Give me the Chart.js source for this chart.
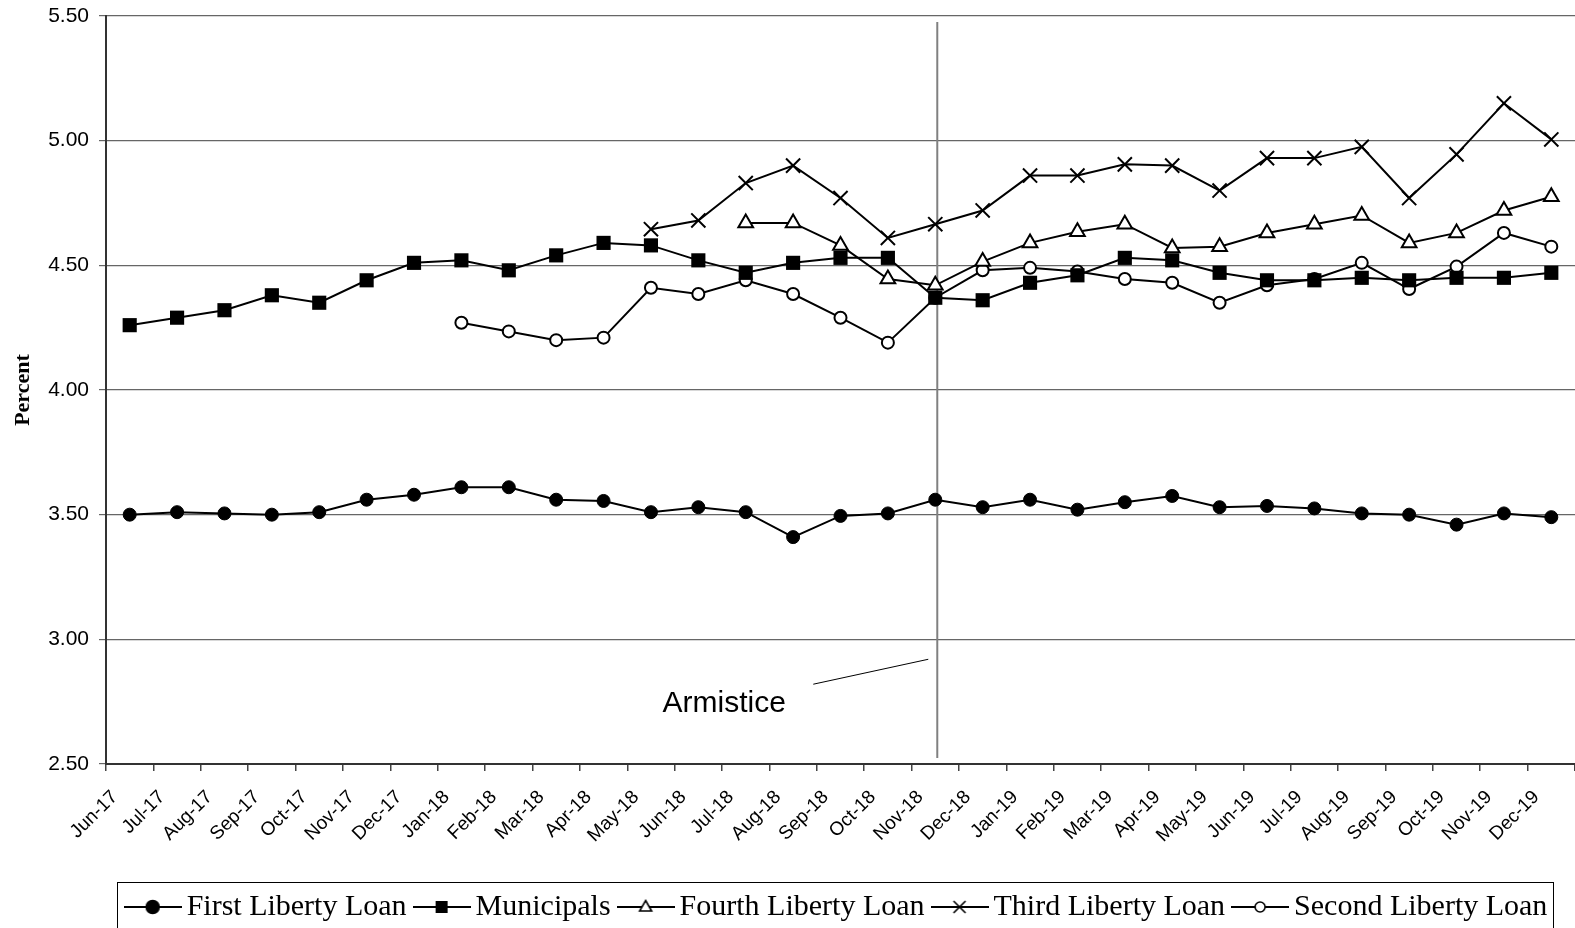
<!DOCTYPE html>
<html>
<head>
<meta charset="utf-8">
<script src="https://cdn.jsdelivr.net/npm/chart.js@4.4.0/dist/chart.umd.min.js"></script>
<style>
  html, body { margin: 0; padding: 0; background: #fff; }
</style>
</head>
<body>
<canvas id="graficaTasas" width="1575" height="928"></canvas>
<script>
const months = ['Jun-17', 'Jul-17', 'Aug-17', 'Sep-17', 'Oct-17', 'Nov-17', 'Dec-17',
    'Jan-18', 'Feb-18', 'Mar-18', 'Apr-18', 'May-18', 'Jun-18', 'Jul-18', 'Aug-18', 'Sep-18', 'Oct-18', 'Nov-18', 'Dec-18',
    'Jan-19', 'Feb-19', 'Mar-19', 'Apr-19', 'May-19', 'Jun-19', 'Jul-19', 'Aug-19', 'Sep-19', 'Oct-19', 'Nov-19', 'Dec-19'];

const seriesNames = ['First Liberty Loan', 'Municipals', 'Fourth Liberty Loan', 'Third Liberty Loan', 'Second Liberty Loan'];

const firstLiberty = [3.50, 3.51, 3.505, 3.50, 3.51, 3.56, 3.58, 3.61, 3.61, 3.56, 3.555, 3.51, 3.53, 3.51, 3.41, 3.495,
    3.505, 3.56, 3.53, 3.56, 3.52, 3.55, 3.575, 3.53, 3.535, 3.525, 3.505, 3.50, 3.46, 3.505, 3.49];

const municipals = [4.26, 4.29, 4.32, 4.38, 4.35, 4.44, 4.51, 4.52, 4.48, 4.54, 4.59, 4.58, 4.52, 4.47, 4.51, 4.53,
    4.53, 4.37, 4.36, 4.43, 4.46, 4.53, 4.52, 4.47, 4.44, 4.44, 4.45, 4.44, 4.45, 4.45, 4.47];

const fourthLiberty = [null, null, null, null, null, null, null, null, null, null, null, null, null,
    4.67, 4.67, 4.58, 4.445, 4.42, 4.515, 4.59, 4.635, 4.665, 4.57, 4.575, 4.63, 4.665, 4.70, 4.59, 4.63, 4.72, 4.775];

const thirdLiberty = [null, null, null, null, null, null, null, null, null, null, null,
    4.645, 4.68, 4.83, 4.90, 4.77, 4.61, 4.665, 4.72, 4.86, 4.86, 4.905, 4.90, 4.80, 4.93, 4.93, 4.975, 4.77, 4.945, 5.15, 5.005];

const secondLiberty = [null, null, null, null, null, null, null,
    4.27, 4.235, 4.20, 4.21, 4.41, 4.385, 4.44, 4.385, 4.29, 4.19, 4.37, 4.48, 4.49, 4.475, 4.445, 4.43, 4.35, 4.42, 4.445,
    4.51, 4.405, 4.495, 4.63, 4.575];

const yTicks = [2.50, 3.00, 3.50, 4.00, 4.50, 5.00, 5.50];

const armisticeMonth = 'Nov-18';
const armisticeText = 'Armistice';

// marker for the legend: short line with the symbol in the middle
function legendSymbol(style, filled) {
    const c = document.createElement('canvas');
    c.width = 58;
    c.height = 24;
    const g = c.getContext('2d');
    g.strokeStyle = '#000';
    g.lineWidth = 2;
    g.beginPath();
    g.moveTo(0, 12);
    g.lineTo(58, 12);
    g.stroke();
    g.fillStyle = filled ? '#000' : '#fff';
    g.lineWidth = 1.6;
    g.beginPath();
    if (style === 'circle') {
        g.arc(29, 12, filled ? 6.5 : 5, 0, Math.PI * 2);
        g.fill();
        g.stroke();
    } else if (style === 'rect') {
        g.rect(23, 6, 12, 12);
        g.fill();
    } else if (style === 'triangle') {
        g.moveTo(29, 5.5);
        g.lineTo(35, 16);
        g.lineTo(23, 16);
        g.closePath();
        g.fill();
        g.stroke();
    } else if (style === 'crossRot') {
        g.moveTo(23, 6); g.lineTo(35, 18);
        g.moveTo(35, 6); g.lineTo(23, 18);
        g.stroke();
    }
    return c;
}

const legendSymbols = [
    legendSymbol('circle', true),
    legendSymbol('rect', true),
    legendSymbol('triangle', false),
    legendSymbol('crossRot', false),
    legendSymbol('circle', false)
];

// armistice line, label and pointer
const armisticePlugin = {
    id: 'armistice',
    beforeDatasetsDraw(chart) {
        const { ctx, chartArea, scales } = chart;
        const xa = scales.x.getPixelForValue(months.indexOf(armisticeMonth)) + 2;
        ctx.save();
        ctx.strokeStyle = '#808080';
        ctx.lineWidth = 2;
        ctx.beginPath();
        ctx.moveTo(xa, chartArea.top + 6);
        ctx.lineTo(xa, chartArea.bottom - 6);
        ctx.stroke();
        ctx.restore();
    },
    afterDatasetsDraw(chart) {
        const { ctx, scales } = chart;
        const xa = scales.x.getPixelForValue(months.indexOf(armisticeMonth));
        ctx.save();
        ctx.strokeStyle = '#000';
        ctx.lineWidth = 1;
        ctx.beginPath();
        ctx.moveTo(xa - 122, scales.y.getPixelForValue(2.82));
        ctx.lineTo(xa - 7, scales.y.getPixelForValue(2.92));
        ctx.stroke();
        ctx.fillStyle = '#000';
        ctx.font = '30px "Liberation Sans", Arial, sans-serif';
        ctx.textAlign = 'center';
        ctx.textBaseline = 'alphabetic';
        ctx.fillText(armisticeText, xa - 211, scales.y.getPixelForValue(2.71));
        ctx.restore();
    }
};

// frame round the legend
const legendFrame = {
    id: 'legendFrame',
    afterDraw(chart) {
        const boxes = chart.legend.legendHitBoxes;
        if (!boxes || !boxes.length) return;
        const first = boxes[0];
        const last = boxes[boxes.length - 1];
        const ctx = chart.ctx;
        ctx.save();
        ctx.strokeStyle = '#000';
        ctx.lineWidth = 1;
        const left = Math.round(first.left - 17) + 0.5;
        const right = Math.round(last.left + last.width + 6) + 0.5;
        const top = Math.round(first.top - 10) + 0.5;
        ctx.strokeRect(left, top, right - left, chart.height + 4 - top);
        ctx.restore();
    }
};

const ctx = document.getElementById('graficaTasas').getContext('2d');
new Chart(ctx, {
    type: 'line',
    data: {
        labels: months,
        datasets: [{
            label: seriesNames[0],
            data: firstLiberty,
            borderColor: '#000',
            borderWidth: 2,
            pointStyle: 'circle',
            pointRadius: 6.5,
            pointBackgroundColor: '#000',
            pointBorderColor: '#000',
            pointBorderWidth: 1
        }, {
            label: seriesNames[1],
            data: municipals,
            borderColor: '#000',
            borderWidth: 2,
            pointStyle: 'rect',
            pointRadius: 10,
            pointBackgroundColor: '#000',
            pointBorderColor: '#000',
            pointBorderWidth: 0
        }, {
            label: seriesNames[2],
            data: fourthLiberty,
            borderColor: '#000',
            borderWidth: 2,
            pointStyle: 'triangle',
            pointRadius: 8.5,
            pointBackgroundColor: '#fff',
            pointBorderColor: '#000',
            pointBorderWidth: 2
        }, {
            label: seriesNames[3],
            data: thirdLiberty,
            borderColor: '#000',
            borderWidth: 2,
            pointStyle: 'crossRot',
            pointRadius: 10,
            pointBackgroundColor: '#000',
            pointBorderColor: '#000',
            pointBorderWidth: 2
        }, {
            label: seriesNames[4],
            data: secondLiberty,
            borderColor: '#000',
            borderWidth: 2,
            pointStyle: 'circle',
            pointRadius: 6,
            pointBackgroundColor: '#fff',
            pointBorderColor: '#000',
            pointBorderWidth: 2
        }]
    },
    options: {
        responsive: false,
        animation: false,
        layout: { autoPadding: false, padding: { top: 16, right: 0, bottom: -4, left: 0 } },
        elements: { line: { tension: 0, fill: false } },
        scales: {
            x: {
                offset: true,
                afterFit: (scale) => {
                    scale.height = 112;
                    scale.paddingLeft = 0;
                    scale.paddingRight = 0;
                },
                grid: {
                    offset: true,
                    drawOnChartArea: false,
                    drawTicks: true,
                    tickLength: 7,
                    color: '#444',
                    lineWidth: 1.5
                },
                border: { color: '#333', width: 2 },
                ticks: {
                    autoSkip: false,
                    minRotation: 45,
                    maxRotation: 45,
                    labelOffset: -15,
                    padding: 15,
                    color: '#000',
                    font: { family: '"Liberation Sans", Arial, sans-serif', size: 19 }
                }
            },
            y: {
                min: yTicks[0],
                max: yTicks[yTicks.length - 1],
                afterFit: (scale) => {
                    scale.width = 106;
                    scale.paddingTop = 0;
                    scale.paddingBottom = 0;
                },
                afterBuildTicks: (scale) => { scale.ticks = yTicks.map(v => ({ value: v })); },
                grid: {
                    color: '#666',
                    lineWidth: 1.2,
                    tickLength: 7
                },
                border: { color: '#333', width: 2 },
                ticks: {
                    padding: 10,
                    color: '#000',
                    font: { family: '"Liberation Sans", Arial, sans-serif', size: 21 },
                    callback: (v) => Number(v).toFixed(2)
                },
                title: {
                    display: true,
                    text: 'Percent',
                    color: '#000',
                    padding: { top: 10, bottom: 0 },
                    font: { family: '"Liberation Serif", "Times New Roman", serif', size: 22, weight: 'bold' }
                }
            }
        },
        plugins: {
            tooltip: { enabled: false },
            legend: {
                display: true,
                position: 'bottom',
                fullSize: false,
                labels: {
                    usePointStyle: true,
                    pointStyleWidth: 38,
                    padding: 16,
                    color: '#000',
                    font: { family: '"Liberation Serif", "Times New Roman", serif', size: 30 },
                    generateLabels: (chart) => chart.data.datasets.map((ds, i) => ({
                        text: ds.label,
                        pointStyle: legendSymbols[i],
                        fillStyle: '#000',
                        strokeStyle: '#000',
                        lineWidth: 0,
                        fontColor: '#000',
                        hidden: false,
                        datasetIndex: i
                    }))
                }
            }
        }
    },
    plugins: [armisticePlugin, legendFrame]
});
</script>
</body>
</html>
